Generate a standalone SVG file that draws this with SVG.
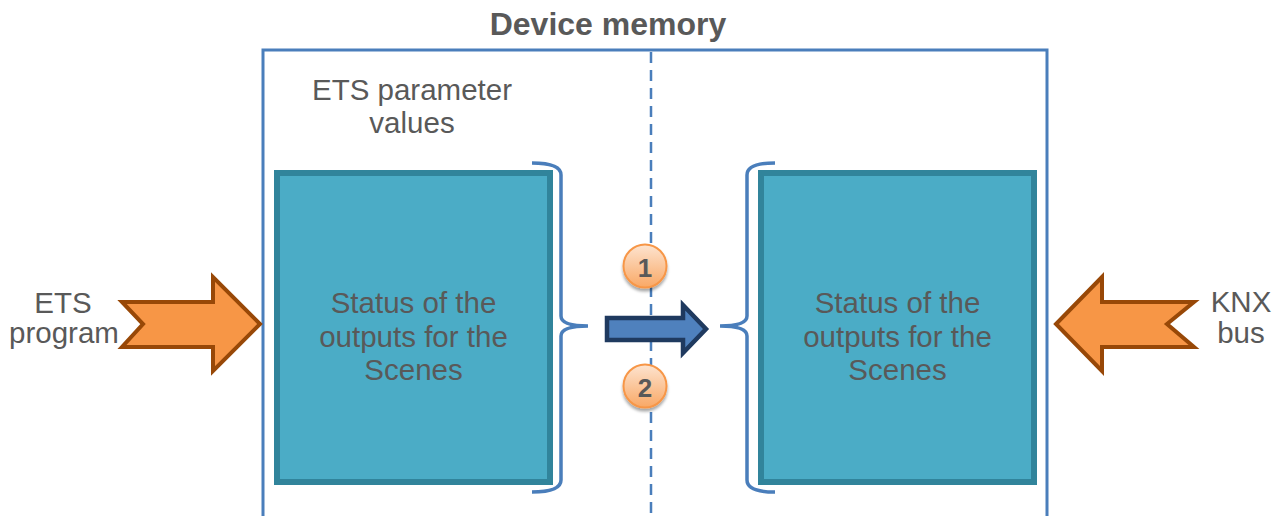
<svg xmlns="http://www.w3.org/2000/svg" width="1287" height="516" viewBox="0 0 1287 516">
<defs>
<linearGradient id="gOrange" x1="0" y1="0" x2="0" y2="1">
<stop offset="0" stop-color="#FDE4D0"/>
<stop offset="1" stop-color="#F9A865"/>
</linearGradient>
<filter id="shadow" x="-30%" y="-30%" width="160%" height="170%">
<feDropShadow dx="0" dy="3" stdDeviation="1.5" flood-color="#000" flood-opacity="0.35"/>
</filter>
<style>
.t{font-family:"Liberation Sans",Arial,sans-serif;fill:#595959;text-anchor:middle}
.lbl{font-size:29.5px}
.box{fill:#4BACC6;stroke:#31849B;stroke-width:6}
.brace{fill:none;stroke:#4A7EBB;stroke-width:3.5;stroke-linecap:butt}
.big{fill:#F79646;stroke:#984807;stroke-width:4;stroke-linejoin:miter}
.num{fill:url(#gOrange);stroke:#F79646;stroke-width:2}
</style>
</defs>
<rect width="1287" height="516" fill="#ffffff"/>

<g id="memory">
<path d="M263,518 V50 H1047 V518" fill="none" stroke="#4A7EBB" stroke-width="3"/>
<text class="t" x="608" y="35" font-size="32" font-weight="bold">Device memory</text>
</g>

<g id="divider">
<line x1="651" y1="52" x2="651" y2="516" stroke="#4A7EBB" stroke-width="2.5" stroke-dasharray="11,7"/>
</g>

<g id="etsParams">
<text class="t lbl" x="412" y="100">ETS parameter</text>
<text class="t lbl" x="412" y="133">values</text>
</g>

<g id="boxLeft">
<rect class="box" x="277" y="173" width="273" height="309"/>
<text class="t lbl" x="413.5" y="313">Status of the</text>
<text class="t lbl" x="413.5" y="347">outputs for the</text>
<text class="t lbl" x="413.5" y="380">Scenes</text>
</g>

<g id="boxRight">
<rect class="box" x="761" y="173" width="273" height="309"/>
<text class="t lbl" x="897.5" y="313">Status of the</text>
<text class="t lbl" x="897.5" y="347">outputs for the</text>
<text class="t lbl" x="897.5" y="380">Scenes</text>
</g>

<g id="braceLeft">
<path class="brace" d="M532,163 Q561,163 561,175 V316 Q561,326 588,326 Q561,326 561,336 V480 Q561,492 532,492"/>
</g>

<g id="braceRight">
<path class="brace" d="M775,163 Q747,163 747,175 V316 Q747,326 720,326 Q747,326 747,336 V480 Q747,492 775,492"/>
</g>

<g id="etsProgram">
<text class="t lbl" x="63" y="313">ETS</text>
<text class="t lbl" x="64" y="343">program</text>
</g>

<g id="knxBus">
<text class="t lbl" x="1241" y="312">KNX</text>
<text class="t lbl" x="1241" y="343">bus</text>
</g>

<g id="connectors">
<polygon class="big" points="122,302 213,302 213,277 260,324 213,371 213,347 122,347 143,324"/>
<polygon class="big" points="1194,302 1102,302 1102,277 1056,324 1102,371 1102,347 1194,347 1167,324"/>
<polygon points="607,318 683,318 683,305 706,329 683,353 683,340 607,340" fill="#4F81BD" stroke="#1F3A5F" stroke-width="4.5" stroke-linejoin="miter"/>
</g>

<g id="step1">
<circle class="num" cx="645" cy="266" r="21.5" filter="url(#shadow)"/>
<text class="t" x="645" y="277" font-size="26" font-weight="bold">1</text>
</g>

<g id="step2">
<circle class="num" cx="645" cy="386" r="21.5" filter="url(#shadow)"/>
<text class="t" x="645" y="397" font-size="26" font-weight="bold">2</text>
</g>
</svg>
